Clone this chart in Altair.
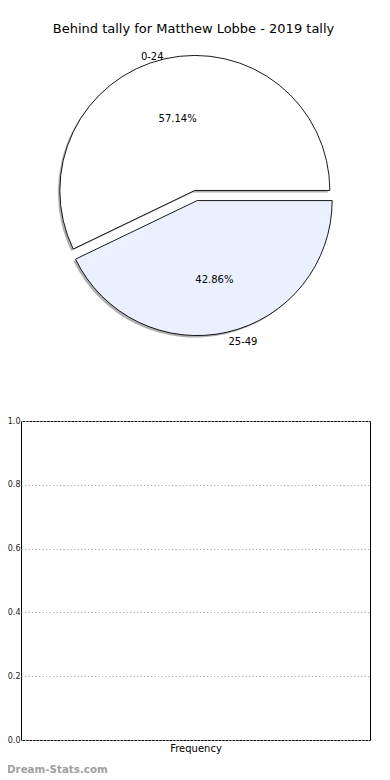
import math
import altair as alt
import pandas as pd

# ---- data ----
categories = ["0-24", "25-49"]
counts = [4, 3]
slice_colors = ["#FFFFFF", "#EAF0FF"]
title_text = "Behind tally for Matthew Lobbe - 2019 tally"

y_ticks = [0.0, 0.2, 0.4, 0.6, 0.8, 1.0]
freq_categories = []
freq_values = []
watermark = ["Dream-Stats.com"]

# ---- layout / style ----
W = 349
H_TOP = 367
H_BOT = 319
CX, CY, R, EXPLODE = 175, 155.5, 135, 5.2
FONT = "DejaVu Sans"

pie_df = pd.DataFrame({"category": categories, "count": counts, "color": slice_colors})

base = (
    alt.Chart(pie_df)
    .transform_joinaggregate(total="sum(count)")
    .transform_window(
        cum="sum(count)",
        sort=[alt.SortField("category", order="descending")],
        frame=[None, 0],
    )
    .transform_calculate(
        fs="(datum.cum - datum.count) / datum.total",
        fe="datum.cum / datum.total",
        fm="(datum.cum - datum.count / 2) / datum.total",
    )
    .transform_calculate(
        ang="datum.fm * 2 * PI + PI / 2",
        pct="datum.count / datum.total",
    )
    .transform_calculate(
        cx=f"{CX} + {EXPLODE} * sin(datum.ang)",
        cy=f"{CY} - {EXPLODE} * cos(datum.ang)",
    )
)

theta_scale = alt.Scale(domain=[0, 1], range=[math.pi / 2, math.pi / 2 + 2 * math.pi])
xenc = alt.X("cx:Q", scale=None, axis=None)
yenc = alt.Y("cy:Q", scale=None, axis=None)

shadow = base.mark_arc(
    outerRadius=R, fill="#7a7a7a", opacity=0.6, xOffset=-2, yOffset=2
).encode(
    theta=alt.Theta("fs:Q", scale=theta_scale),
    theta2="fe:Q",
    x=xenc,
    y=yenc,
)

slices = base.mark_arc(outerRadius=R, stroke="black", strokeWidth=0.9).encode(
    theta=alt.Theta("fs:Q", scale=theta_scale),
    theta2="fe:Q",
    x=xenc,
    y=yenc,
    fill=alt.Fill("color:N", scale=None),
)

lab_right = base.transform_filter("sin(datum.ang) < 0").mark_text(
    align="right", baseline="middle", fontSize=10, font=FONT, color="black", dy=4
).encode(
    theta=alt.Theta("fm:Q", scale=theta_scale),
    radius=alt.value(140.5),
    x=xenc,
    y=yenc,
    text="category:N",
)

lab_left = base.transform_filter("sin(datum.ang) >= 0").mark_text(
    align="left", baseline="middle", fontSize=10, font=FONT, color="black", dy=4
).encode(
    theta=alt.Theta("fm:Q", scale=theta_scale),
    radius=alt.value(140.5),
    x=xenc,
    y=yenc,
    text="category:N",
)

pct = base.mark_text(
    align="center", baseline="middle", fontSize=10, font=FONT, color="black", dy=4
).encode(
    theta=alt.Theta("fm:Q", scale=theta_scale),
    radius=alt.value(77.5),
    x=xenc,
    y=yenc,
    text=alt.Text("pct:Q", format=".2%"),
)

top = alt.layer(shadow, slices, lab_right, lab_left, pct).properties(
    width=W,
    height=H_TOP,
    title=alt.TitleParams(
        title_text,
        fontSize=13,
        font=FONT,
        fontWeight="normal",
        color="black",
        anchor="middle",
        dx=-2,
    ),
)

freq_df = pd.DataFrame({"category": pd.Series(freq_categories, dtype=str),
                        "value": pd.Series(freq_values, dtype=float)})

bars = alt.Chart(freq_df).mark_bar(color="#EAF0FF").encode(
    x=alt.X(
        "category:N",
        axis=alt.Axis(
            labels=False,
            ticks=False,
            domain=False,
            title="Frequency",
            titleFontSize=10,
            titleFont=FONT,
            titleFontWeight="normal",
            titleColor="black",
            titlePadding=3,
        ),
    ),
    y=alt.Y(
        "value:Q",
        scale=alt.Scale(domain=[0, 1]),
        title=None,
        axis=alt.Axis(
            values=y_ticks,
            format=".1f",
            labelFontSize=8,
            labelFont=FONT,
            labelColor="#222222",
            tickSize=0,
            labelPadding=1,
            domain=False,
            grid=True,
            gridColor="#a8a8a8",
            gridDash=[1.2, 2.3],
            gridWidth=1,
        ),
    ),
)

wm = alt.Chart(pd.DataFrame({"t": watermark})).mark_text(
    align="left", baseline="middle", fontSize=10.3, fontWeight="bold", font=FONT, color="#a0a0a0"
).encode(text="t:N", x=alt.value(-14), y=alt.value(H_BOT + 30))

bottom = alt.layer(bars, wm).properties(
    width=W,
    height=H_BOT,
    view=alt.ViewBackground(stroke="black", strokeWidth=1),
)

chart = (
    alt.vconcat(top, bottom, spacing=9)
    .properties(padding={"left": -2, "top": 15, "right": 5, "bottom": 0})
    .configure_view(strokeWidth=0)
)

chart.save("out.html", embed_options={"renderer": "svg", "actions": False})
